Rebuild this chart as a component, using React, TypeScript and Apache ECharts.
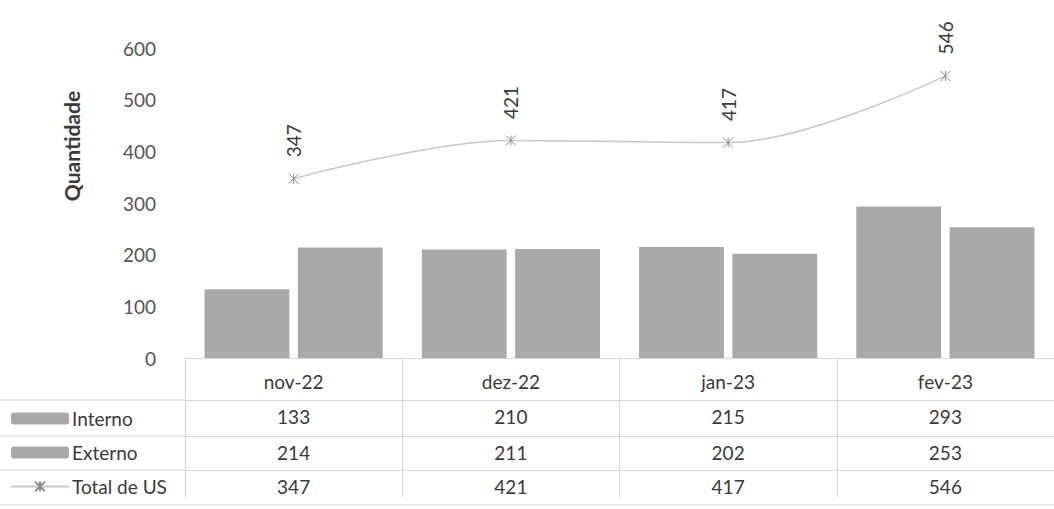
import React, { useEffect, useRef } from "react";
import * as echarts from "echarts";

const categories = ["nov-22", "dez-22", "jan-23", "fev-23"];
const interno = [133, 210, 215, 293];
const externo = [214, 211, 202, 253];
const total = [347, 421, 417, 546];
const yTicks = { min: 0, max: 600, interval: 100 };

const FONT = "Lato";
const TEXT = "#3a3a3a";
const RULE = "#d6d6d6";
const FS = 19;
const CROSS = "path://M0,0L10,10M10,0L0,10M5,0L5,10";

export default function App() {
  const ref = useRef<HTMLDivElement>(null);
  useEffect(() => {
    if (!ref.current) return;
    const chart = echarts.init(ref.current, undefined, { renderer: "svg" });
    const rowAxis = (data: number[], offset: number) => ({
      type: "category",
      gridIndex: 0,
      position: "bottom",
      offset,
      data: data.map(String),
      axisLine: { show: true, lineStyle: { color: RULE, width: 1 } },
      axisTick: { show: false },
      axisLabel: { color: TEXT, fontSize: FS, fontFamily: FONT, margin: 7, interval: 0 },
    });
    chart.setOption({
      animation: false,
      backgroundColor: "#ffffff",
      textStyle: { fontFamily: FONT },
      grid: { left: 185, right: 0, top: 48, bottom: 151, containLabel: false },
      legend: {
        orient: "vertical",
        left: 10,
        top: 409,
        padding: 0,
        itemWidth: 58,
        itemHeight: 12,
        itemGap: 15,
        height: 120,
        textStyle: { color: TEXT, fontSize: FS, fontFamily: FONT, padding: [0, 0, 0, -2] },
        data: ["Interno", "Externo", "Total de US"],
      },
      xAxis: [
        {
          type: "category",
          position: "bottom",
          offset: 8,
          data: categories,
          axisLine: { show: true, lineStyle: { color: RULE, width: 1 } },
          axisTick: { show: true, length: 139, interval: 0, lineStyle: { color: RULE } },
          axisLabel: { color: TEXT, fontSize: FS, fontFamily: FONT, margin: 6, interval: 0 },
        },
        rowAxis(interno, 42),
        rowAxis(externo, 78),
        rowAxis(total, 112),
      ],
      yAxis: {
        type: "value",
        min: yTicks.min,
        max: yTicks.max,
        interval: yTicks.interval,
        name: "Quantidade",
        nameLocation: "middle",
        nameGap: 103,
        nameTextStyle: {
          color: TEXT,
          fontSize: 21,
          fontWeight: "bold",
          fontFamily: FONT,
          padding: [0, 0, 0, 114],
        },
        axisLine: { show: false },
        axisTick: { show: false },
        splitLine: { show: false },
        axisLabel: { color: "#555555", fontSize: FS, fontFamily: FONT, margin: 29 },
      },
      series: [
        {
          name: "Interno",
          type: "bar",
          data: interno,
          barGap: "10%",
          barCategoryGap: "18%",
          itemStyle: { color: "#a9a9a9" },
        },
        {
          name: "Externo",
          type: "bar",
          data: externo,
          itemStyle: { color: "#a9a9a9" },
        },
        {
          name: "Total de US",
          type: "line",
          data: total,
          smooth: 0.35,
          symbol: CROSS,
          symbolSize: 10,
          lineStyle: { color: "#c8c8c8", width: 1.5 },
          itemStyle: { color: "none", borderColor: "#8c8c8c", borderWidth: 1 },
          label: {
            show: true,
            position: "top",
            distance: 14,
            rotate: 90,
            align: "left",
            verticalAlign: "middle",
            color: TEXT,
            fontSize: FS,
            fontFamily: FONT,
          },
        },
      ],
      graphic: [
        { type: "line", shape: { x1: 0, y1: 400, x2: 185, y2: 400 }, style: { stroke: RULE, lineWidth: 1 } },
        { type: "line", shape: { x1: 0, y1: 436, x2: 185, y2: 436 }, style: { stroke: RULE, lineWidth: 1 } },
        { type: "line", shape: { x1: 0, y1: 470, x2: 185, y2: 470 }, style: { stroke: RULE, lineWidth: 1 } },
        { type: "line", shape: { x1: 0, y1: 505, x2: 1054, y2: 505 }, style: { stroke: RULE, lineWidth: 1 } },
      ],
    });
    return () => chart.dispose();
  }, []);
  return (
    <div
      ref={ref}
      style={{ position: "fixed", left: 0, top: 0, width: 1054, height: 509, background: "#fff" }}
    />
  );
}
